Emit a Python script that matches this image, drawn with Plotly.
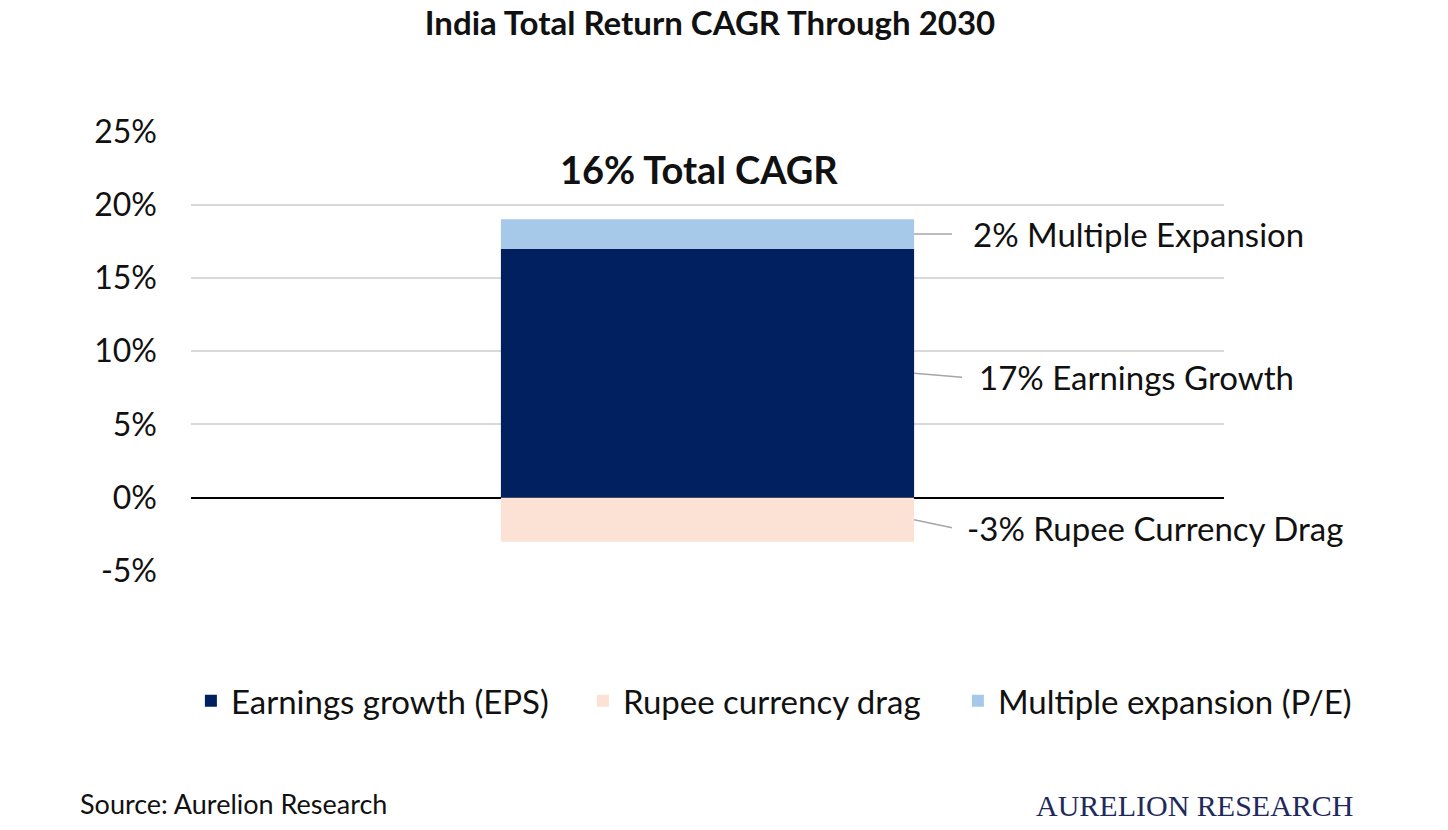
import plotly.graph_objects as go

categories = ["India"]
series_names = ["Earnings growth (EPS)", "Rupee currency drag", "Multiple expansion (P/E)"]
earnings = [17]
rupee = [-3]
multiple = [2]
total_cagr = 16
tick_vals = [-5, 0, 5, 10, 15, 20, 25]
tick_text = ["-5%", "0%", "5%", "10%", "15%", "20%", "25%"]
label_texts = ["2% Multiple Expansion", "17% Earnings Growth", "-3% Rupee Currency Drag"]

NAVY = "#002060"
PEACH = "#FBE2D5"
LIGHTBLUE = "#A6C9EA"
FONT = "Lato"
TXT = "#111111"

fig = go.Figure()
fig.add_trace(go.Bar(name=series_names[0], x=categories, y=earnings, marker_color=NAVY, marker_line_width=0,
                     width=0.4, legendwidth=347))
fig.add_trace(go.Bar(name=series_names[1], x=categories, y=rupee, marker_color=PEACH, marker_line_width=0,
                     width=0.4, legendwidth=330))
fig.add_trace(go.Bar(name=series_names[2], x=categories, y=multiple, marker_color=LIGHTBLUE, marker_line_width=0,
                     width=0.4, legendwidth=360))

fig.update_layout(
    barmode="relative",
    width=1448, height=830,
    margin=dict(l=183, r=232, t=123, b=267),
    paper_bgcolor="white", plot_bgcolor="white",
    font=dict(family=FONT, color=TXT),
    title=dict(text="<b>India Total Return CAGR Through 2030</b>", x=(710 - 8) / 1448, xanchor="center",
               y=1 - 15 / 830, yanchor="middle", yref="container",
               font=dict(family=FONT, size=33, color=TXT)),
    xaxis=dict(range=[-0.5, 0.5], showticklabels=False, showgrid=False, zeroline=False, showline=False, ticks=""),
    yaxis=dict(range=[-5, 25.03], tickvals=tick_vals, ticktext=tick_text, showgrid=True, gridcolor="#D9D9D9",
               gridwidth=1.5, zeroline=True, zerolinecolor="#000000", zerolinewidth=2,
               tickfont=dict(family=FONT, size=32, color=TXT), ticks="", ticklabelstandoff=33),
    legend=dict(orientation="h", x=-0.0001, xanchor="left", y=-0.295, yanchor="middle",
                font=dict(family=FONT, size=33, color=TXT), traceorder="normal"),
    showlegend=True,
)

e = earnings[0]; r = rupee[0]; m = multiple[0]
fig.add_annotation(x=0, y=e + m + 3.45, text=f"<b>{total_cagr}% Total CAGR</b>", showarrow=False,
                   font=dict(family=FONT, size=38, color=TXT), xanchor="center", yanchor="middle", xshift=-9)

leaders = [
    (e + m / 2, e + m / 2, 0.2367, 0.255, label_texts[0]),
    (e / 2, e / 2 - 0.27, 0.2464, 0.261, label_texts[1]),
    (r / 2, r / 2 - 0.55, 0.2367, 0.249, label_texts[2]),
]
for y0, y1, xend, xtext, txt in leaders:
    fig.add_shape(type="line", x0=0.2, x1=xend, y0=y0, y1=y1, xref="x", yref="y",
                  line=dict(color="#A6A6A6", width=1.5))
    fig.add_annotation(x=xtext, y=y1, text=txt, showarrow=False, xanchor="left", yanchor="middle",
                       font=dict(family=FONT, size=33, color=TXT))

fig.add_annotation(x=(78 - 191) / 1033, y=(571 - 803) / 440, xref="paper", yref="paper",
                   text="Source: Aurelion Research", showarrow=False, xanchor="left", yanchor="middle",
                   font=dict(family=FONT, size=27, color=TXT))
fig.add_annotation(x=(1356 - 191) / 1033, y=(571 - 805) / 440, xref="paper", yref="paper",
                   text="AURELION RESEARCH", showarrow=False, xanchor="right", yanchor="middle",
                   font=dict(family="Liberation Serif", size=30, color="#1F2A5C"))

fig.write_html("out.html")
